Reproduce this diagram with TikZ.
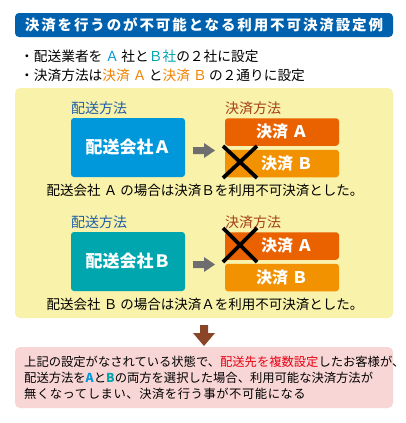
\documentclass[tikz,border=0pt]{standalone}
\usepackage{fontspec}
\setmainfont{Noto Sans CJK JP}
\definecolor{titleblue}{HTML}{0062AE}
\definecolor{coA}{HTML}{0098DA}
\definecolor{coB}{HTML}{00A6AE}
\definecolor{payAc}{HTML}{EA6100}
\definecolor{payBc}{HTML}{F39200}
\definecolor{panelyel}{HTML}{F8F2AA}
\definecolor{panelpink}{HTML}{F9D6D6}
\definecolor{downbrown}{HTML}{8A4526}
\definecolor{arrgray}{HTML}{6E6E6E}
\definecolor{lblblue}{HTML}{1F5EA8}
\definecolor{lblbrown}{HTML}{A5401A}
\definecolor{txtorange}{HTML}{F08200}
\definecolor{txtred}{HTML}{E60012}
\tikzset{
  cobox/.style={rounded corners=3pt, minimum width=114pt, minimum height=59pt, text=white, font=\fontsize{17}{17}\selectfont\bfseries, inner sep=0pt},
  paybox/.style={rounded corners=3pt, minimum width=114pt, minimum height=27.5pt, text=white, font=\fontsize{16}{16}\selectfont\bfseries, inner sep=0pt},
  lbl/.style={anchor=west, font=\fontsize{14}{14}\selectfont, inner sep=0pt},
  body/.style={anchor=west, font=\fontsize{13.7}{13.7}\selectfont, inner sep=0pt},
  captext/.style={font=\fontsize{13.5}{13.5}\selectfont, inner sep=0pt},
  xmark/.style={line width=3.8pt, black},
  body12/.style={anchor=west, font=\fontsize{12.3}{12.3}\selectfont, inner sep=0pt},
}
\begin{document}
\begin{tikzpicture}[x=1pt,y=-1pt]
\useasboundingbox (0,0) rectangle (405,423);
\fill[white] (0,0) rectangle (405,423);
% title
\node[fill=titleblue, rounded corners=4pt, minimum width=378pt, minimum height=24pt, inner sep=0pt] (title) at (204,25) {};
\node[text=white, inner sep=0pt, font=\fontsize{14.5}{14.5}\selectfont\bfseries\addfontfeatures{LetterSpace=13}] (titletext) at (204,25) {決済を行うのが不可能となる利用不可決済設定例};
% bullets
\node[body] (b1) at (20,56) {・配送業者を \textcolor{coA}{Ａ}\,社と\textcolor{coB}{Ｂ社}の２社に設定};
\node[body] (b2) at (20,75) {・決済方法は\textcolor{txtorange}{決済 Ａ}\,と\textcolor{txtorange}{決済 Ｂ}\,の２通りに設定};
% yellow panel
\node[fill=panelyel, rounded corners=5pt, minimum width=378pt, minimum height=230pt, inner sep=0pt] (panel) at (204,203) {};
% section 1
\node[lbl, text=lblblue] (l1a) at (71,108) {配送方法};
\node[lbl, text=lblbrown] (l1b) at (225,108) {決済方法};
\node[cobox, fill=coA] (coA) at (128,147.5) {配送会社Ａ};
\node[paybox, fill=payAc] (pA1) at (282,132) {決済 Ａ};
\node[paybox, fill=payBc] (pB1) at (282,163.5) {\hspace{10pt}決済 Ｂ};
\fill[arrgray] (193,147) -- (204,147) -- (204,143) -- (215,150.5) -- (204,158) -- (204,154) -- (193,154) -- cycle;
\draw[xmark] (223,146) -- (257,178);
\draw[xmark] (257,146) -- (223,178);
\node[captext] (c1) at (205,190) {配送会社 Ａ の場合は決済Ｂを利用不可決済とした。};
% section 2
\node[lbl, text=lblblue] (l2a) at (71,222) {配送方法};
\node[lbl, text=lblbrown] (l2b) at (225,222) {決済方法};
\node[cobox, fill=coB] (coB) at (128,261.5) {配送会社Ｂ};
\node[paybox, fill=payAc] (pA2) at (282,246) {\hspace{10pt}決済 Ａ};
\node[paybox, fill=payBc] (pB2) at (282,277.5) {決済 Ｂ};
\fill[arrgray] (193,261) -- (204,261) -- (204,257) -- (215,264.5) -- (204,272) -- (204,268) -- (193,268) -- cycle;
\draw[xmark] (223,228) -- (257,262);
\draw[xmark] (257,228) -- (223,262);
\node[captext] (c2) at (205,304) {配送会社 Ｂ の場合は決済Ａを利用不可決済とした。};
% down arrow
\fill[downbrown] (200,325) -- (208,325) -- (208,333) -- (215,333) -- (204,346) -- (193,333) -- (200,333) -- cycle;
% pink panel
\node[fill=panelpink, rounded corners=5pt, minimum width=378pt, minimum height=61pt, inner sep=0pt] (pink) at (204,377.5) {};
\node[body12] (t1) at (24,362) {上記の設定がなされている状態で、\textcolor{txtred}{配送先を複数設定}したお客様が、};
\node[body12] (t2) at (24,378) {配送方法を\textcolor{coA}{\textbf{A}}と\textcolor{coB}{\textbf{B}}の両方を選択した場合、利用可能な決済方法が};
\node[body12, font=\fontsize{12.3}{12.3}\selectfont\addfontfeatures{LetterSpace=4.5}] (t3) at (24,394) {無くなってしまい、決済を行う事が不可能になる};
\end{tikzpicture}
\end{document}
